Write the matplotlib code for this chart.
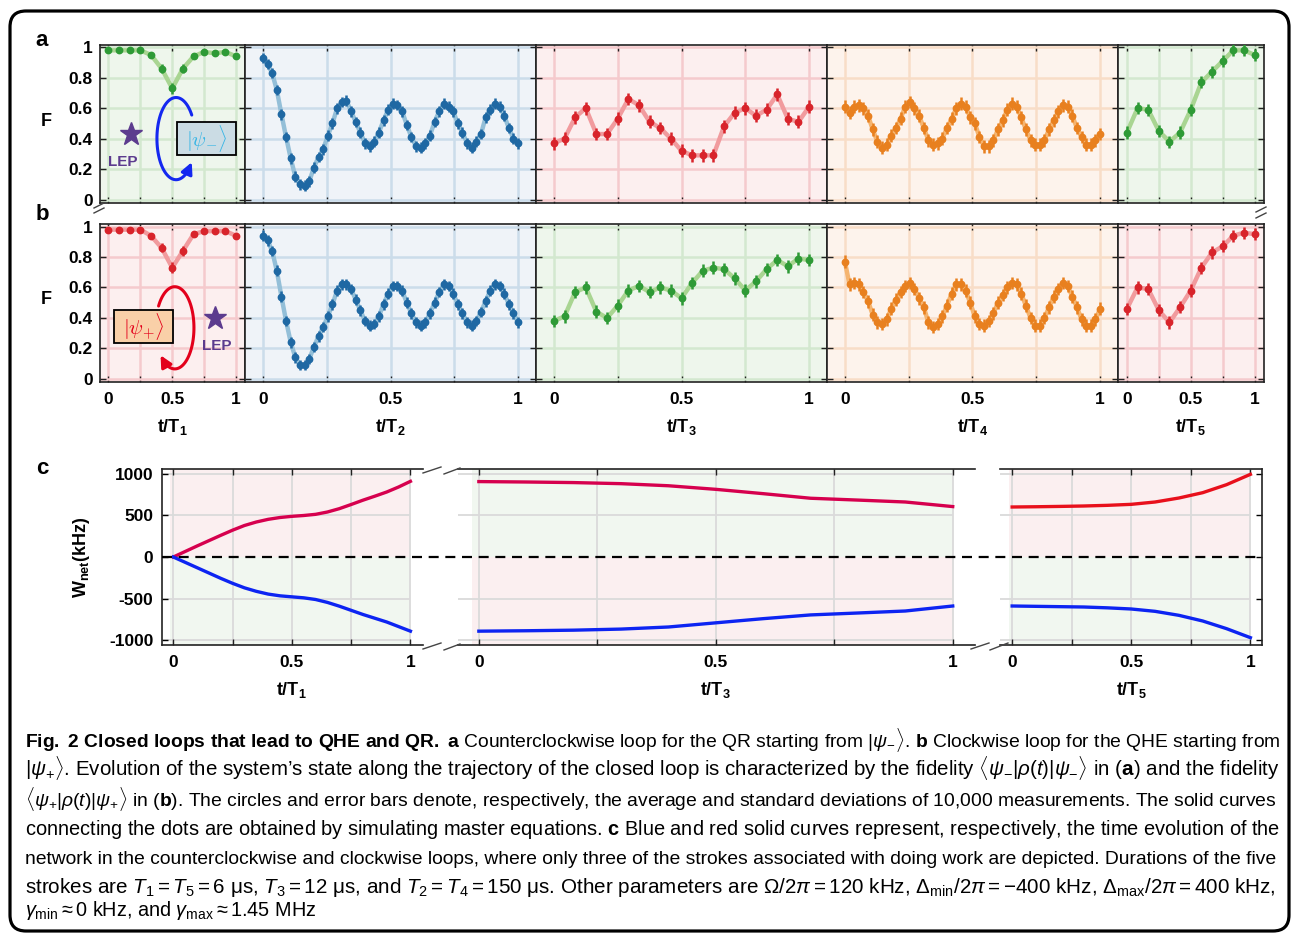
import numpy as np
import matplotlib
matplotlib.use('Agg')
import matplotlib.pyplot as plt
from matplotlib import font_manager
from matplotlib.patches import FancyBboxPatch, Rectangle
from matplotlib.lines import Line2D
from matplotlib.transforms import IdentityTransform

# ---------------- data ----------------
t13 = np.arange(13) / 12.
t25 = np.arange(25) / 24.
t56 = np.arange(56) / 55.
tc21 = np.arange(21) / 20.
tc = np.arange(11) / 10.

# a: counterclockwise loop, fidelity <psi_-|rho|psi_->
F_a1 = [0.98, 0.98, 0.98, 0.98, 0.95, 0.86, 0.73, 0.86, 0.94, 0.97, 0.96, 0.97, 0.94]
F_a2 = [0.93, 0.89, 0.83, 0.72, 0.56, 0.41, 0.27, 0.15, 0.10, 0.09, 0.12, 0.21, 0.28, 0.33,
        0.42, 0.50, 0.60, 0.64, 0.65, 0.58, 0.51, 0.44, 0.37, 0.35, 0.38, 0.44, 0.52, 0.59,
        0.63, 0.62, 0.58, 0.49, 0.41, 0.35, 0.34, 0.37, 0.42, 0.51, 0.58, 0.63, 0.61, 0.58,
        0.50, 0.44, 0.37, 0.34, 0.38, 0.43, 0.54, 0.59, 0.63, 0.61, 0.55, 0.47, 0.40, 0.37]
F_a3 = [0.37, 0.40, 0.54, 0.60, 0.43, 0.43, 0.53, 0.66, 0.62, 0.51, 0.47, 0.40, 0.32,
        0.29, 0.29, 0.29, 0.48, 0.57, 0.60, 0.55, 0.59, 0.69, 0.53, 0.51, 0.61]
F_a4 = [0.61, 0.57, 0.61, 0.62, 0.60, 0.55, 0.46, 0.38, 0.34, 0.36, 0.42, 0.47, 0.53, 0.61,
        0.64, 0.60, 0.55, 0.47, 0.39, 0.36, 0.37, 0.40, 0.47, 0.53, 0.60, 0.63, 0.61, 0.54,
        0.50, 0.41, 0.35, 0.35, 0.39, 0.46, 0.52, 0.59, 0.63, 0.61, 0.54, 0.46, 0.39, 0.36,
        0.36, 0.39, 0.46, 0.52, 0.58, 0.62, 0.61, 0.55, 0.47, 0.41, 0.36, 0.36, 0.39, 0.43]
F_a5 = [0.44, 0.60, 0.59, 0.45, 0.38, 0.44, 0.59, 0.77, 0.84, 0.91, 0.98, 0.98, 0.95]

# b: clockwise loop, fidelity <psi_+|rho|psi_+>
F_b1 = [0.98, 0.98, 0.98, 0.98, 0.94, 0.86, 0.73, 0.84, 0.95, 0.97, 0.97, 0.97, 0.94]
F_b2 = [0.94, 0.91, 0.84, 0.71, 0.54, 0.38, 0.24, 0.14, 0.09, 0.09, 0.13, 0.21, 0.28, 0.34,
        0.41, 0.49, 0.58, 0.62, 0.62, 0.59, 0.52, 0.45, 0.38, 0.35, 0.36, 0.41, 0.49, 0.56,
        0.61, 0.61, 0.58, 0.50, 0.43, 0.37, 0.35, 0.37, 0.43, 0.50, 0.57, 0.62, 0.61, 0.56,
        0.49, 0.43, 0.37, 0.35, 0.38, 0.44, 0.51, 0.58, 0.62, 0.61, 0.56, 0.49, 0.43, 0.37]
F_b3 = [0.38, 0.41, 0.57, 0.60, 0.44, 0.40, 0.48, 0.58, 0.61, 0.57, 0.60, 0.58, 0.53,
        0.63, 0.71, 0.73, 0.72, 0.66, 0.58, 0.64, 0.72, 0.78, 0.74, 0.79, 0.78]
F_b4 = [0.77, 0.62, 0.63, 0.62, 0.57, 0.51, 0.42, 0.37, 0.36, 0.39, 0.46, 0.52, 0.57, 0.61,
        0.63, 0.59, 0.53, 0.47, 0.37, 0.34, 0.36, 0.41, 0.48, 0.56, 0.62, 0.62, 0.58, 0.50,
        0.41, 0.36, 0.35, 0.38, 0.43, 0.50, 0.55, 0.60, 0.63, 0.62, 0.56, 0.48, 0.40, 0.35,
        0.35, 0.40, 0.47, 0.54, 0.59, 0.63, 0.61, 0.54, 0.47, 0.39, 0.35, 0.35, 0.39, 0.46]
F_b5 = [0.46, 0.60, 0.59, 0.45, 0.37, 0.47, 0.58, 0.73, 0.83, 0.87, 0.94, 0.96, 0.95]

err_1 = [0.01, 0.01, 0.01, 0.01, 0.02, 0.03, 0.035, 0.03, 0.02, 0.015, 0.01, 0.01, 0.015]
err_2 = 0.035
err_3 = 0.042
err_4 = 0.042
err_5 = 0.04

# c: net work (kHz) for three strokes
W1_cw = [0, 66, 132, 196, 260, 322, 378, 420, 452, 474, 488, 498, 512, 540, 580, 630,
         682, 730, 780, 840, 908]
W1_ccw = [0, -64, -128, -192, -256, -316, -370, -412, -445, -466, -478, -490, -510, -545,
          -590, -640, -690, -735, -780, -835, -890]
W3_cw = [905, 900, 893, 880, 855, 812, 760, 705, 683, 660, 605]
W3_ccw = [-890, -885, -878, -865, -840, -790, -740, -695, -672, -648, -588]
W5_cw = [600, 603, 607, 612, 620, 632, 660, 708, 772, 868, 992]
W5_ccw = [-588, -592, -596, -600, -610, -624, -652, -700, -768, -860, -968]

# ---------------- style ----------------
W, H = 1292, 934
names = {f.name for f in font_manager.fontManager.ttflist}
SANS = 'Liberation Sans' if 'Liberation Sans' in names else 'DejaVu Sans'
CAP = 'Liberation Sans Narrow' if 'Liberation Sans Narrow' in names else SANS

plt.rcParams['font.family'] = SANS
plt.rcParams['axes.unicode_minus'] = False
plt.rcParams['mathtext.fontset'] = 'custom'
plt.rcParams['mathtext.rm'] = CAP
plt.rcParams['mathtext.it'] = CAP + ':italic'
plt.rcParams['mathtext.bf'] = CAP + ':bold'

STY = {
    'green': dict(dot='#2e9a36', line='#a9d592', bg='#eef6ec', grid='#d3e8cf'),
    'blue': dict(dot='#1f68a3', line='#94bfd8', bg='#eff3f8', grid='#cbdcea'),
    'red': dict(dot='#d8242b', line='#f19b9e', bg='#fcefef', grid='#f5cacd'),
    'orange': dict(dot='#e8801f', line='#f5b46f', bg='#fdf3ec', grid='#f8ddc7'),
}
TICK_FS = 12.5


def frac(x0, y0, w, h):
    return [x0 / W, 1 - (y0 + h) / H, w / W, h / H]


def pxline(fig, p0, p1, **kw):
    fig.add_artist(Line2D([p0[0], p1[0]], [H - p0[1], H - p1[1]],
                          transform=IdentityTransform(), **kw))


fig = plt.figure(figsize=(12.92, 9.34), dpi=100)

# ---------------- panels a and b ----------------
unit = 145.5
lefts = [99.5 + k * unit for k in (0, 1, 3, 5, 7)]
widths = [unit * k for k in (1, 2, 2, 2, 1)]
rows = [
    (44.7, [(t13, F_a1, err_1, 'green'), (t56, F_a2, err_2, 'blue'), (t25, F_a3, err_3, 'red'),
            (t56, F_a4, err_4, 'orange'), (t13, F_a5, err_5, 'green')]),
    (224.0, [(t13, F_b1, err_1, 'red'), (t56, F_b2, err_2, 'blue'), (t25, F_b3, err_3, 'green'),
             (t56, F_b4, err_4, 'orange'), (t13, F_b5, err_5, 'red')]),
]
first_axes = []
for r, (top, panels) in enumerate(rows):
    for i, (t, F, e, c) in enumerate(panels):
        s = STY[c]
        ax = fig.add_axes(frac(lefts[i], top, widths[i], 158))
        ax.set_facecolor(s['bg'])
        ax.set_xlim(-0.07, 1.07)
        ax.set_ylim(-0.021, 1.017)
        ax.set_xticks([0, 0.25, 0.5, 0.75, 1])
        ax.set_yticks([0, 0.2, 0.4, 0.6, 0.8, 1])
        ax.grid(True, color=s['grid'], lw=1.8)
        ax.set_axisbelow(True)
        ax.tick_params(direction='in', top=True, right=True, length=4, width=1,
                       color='#222222', pad=5)
        ax.tick_params(axis='x', pad=7)
        if r == 1:
            ax.set_xticklabels(['0', '', '0.5', '', '1'], fontsize=TICK_FS, fontweight='bold')
        else:
            ax.tick_params(labelbottom=False)
        if i == 0:
            ax.set_yticklabels(['0', '0.2', '0.4', '0.6', '0.8', '1'],
                               fontsize=TICK_FS, fontweight='bold')
            first_axes.append(ax)
        else:
            ax.tick_params(labelleft=False)
        for sp in ax.spines.values():
            sp.set_color('#222222')
            sp.set_linewidth(1.2)
        ax.plot(t, F, color=s['line'], lw=3.2, solid_capstyle='round',
                solid_joinstyle='round', zorder=2)
        ax.errorbar(t, F, yerr=e, fmt='o', ms=4.6, color=s['dot'], ecolor=s['dot'],
                    elinewidth=1.8, capsize=0, zorder=3)


def loop(ax, cx, cy, a, b, th0, th1, color):
    th = np.radians(np.linspace(th0, th1, 90))
    x = cx + a * np.cos(th)
    y = cy + b * np.sin(th)
    ax.plot(x[:-4], y[:-4], color=color, lw=2.2, zorder=4, solid_capstyle='round')
    ax.annotate('', xy=(x[-1], y[-1]), xytext=(x[-6], y[-6]),
                arrowprops=dict(arrowstyle='-|>', color=color, lw=2.2,
                                mutation_scale=17, shrinkA=0, shrinkB=0), zorder=5)


PURPLE = '#5c3b8e'
axa, axb = first_axes
# inset of a1
loop(axa, 0.53, 0.40, 0.15, 0.27, 35, 325, '#1428f0')
axa.add_patch(Rectangle((0.535, 0.29), 0.465, 0.22, facecolor='#cbdce4',
                        edgecolor='black', lw=1.3, zorder=4))
axa.text(0.77, 0.40, r'$|\psi_{-}\rangle$', color='#37b5e5', fontsize=15,
         math_fontfamily='cm', ha='center', va='center', zorder=6)
axa.plot(0.175, 0.43, marker='*', ms=17, color=PURPLE, zorder=5)
axa.text(0.11, 0.245, 'LEP', color=PURPLE, fontsize=11, fontweight='bold',
         ha='center', va='center', zorder=5)
# inset of b1
loop(axb, 0.52, 0.335, 0.15, 0.27, 148, -138, '#e3001b')
axb.add_patch(Rectangle((0.045, 0.233), 0.462, 0.22, facecolor='#f9d0a8',
                        edgecolor='black', lw=1.3, zorder=4))
axb.text(0.276, 0.343, r'$|\psi_{+}\rangle$', color='#e3001b', fontsize=15,
         math_fontfamily='cm', ha='center', va='center', zorder=6)
axb.plot(0.835, 0.40, marker='*', ms=17, color=PURPLE, zorder=5)
axb.text(0.85, 0.217, 'LEP', color=PURPLE, fontsize=11, fontweight='bold',
         ha='center', va='center', zorder=5)

# x labels of a/b
for i, k in enumerate([1, 2, 3, 4, 5]):
    cx = lefts[i] + widths[i] * (0.07 + 0.5) / 1.14
    fig.text(cx / W, 1 - 427 / H, 't/T$_{\\mathbf{%d}}$' % k, fontsize=13,
             fontweight='bold', ha='center', va='center')

# ---------------- panel c ----------------
RED_BG, GRN_BG = '#fbeff0', '#f1f7f0'
c_specs = [
    (161.7, 423.0, (-0.049, 1.053), RED_BG, GRN_BG, tc21, W1_cw, W1_ccw, '#d6004e', 1),
    (458.0, 975.0, (-0.044, 1.047), GRN_BG, RED_BG, tc, W3_cw, W3_ccw, '#d6004e', 3),
    (1000.0, 1261.6, (-0.051, 1.047), RED_BG, GRN_BG, tc, W5_cw, W5_ccw, '#e8101c', 5),
]
for j, (x0, x1, xl, top_c, bot_c, tt, wcw, wccw, rc, k) in enumerate(c_specs):
    ax = fig.add_axes(frac(x0, 469, x1 - x0, 176))
    ax.set_xlim(xl)
    ax.set_ylim(-1056, 1056)
    ax.fill_between([-0.015, 1], 0, 1056, color=top_c, lw=0, zorder=0)
    ax.fill_between([-0.015, 1], -1056, 0, color=bot_c, lw=0, zorder=0)
    ax.vlines([0, 0.25, 0.5, 0.75, 1], -1056, 1056, color='#dadada', lw=1.3, zorder=1)
    ax.hlines([-1000, -500, 500, 1000], xl[0], 1, color='#dadada', lw=1.3, zorder=1)
    ax.plot(tt, wcw, color=rc, lw=2.4, zorder=3)
    ax.plot(tt, wccw, color='#0d24f2', lw=2.4, zorder=3)
    ax.set_xticks([0, 0.25, 0.5, 0.75, 1])
    ax.set_xticklabels(['0', '', '0.5', '', '1'], fontsize=TICK_FS, fontweight='bold')
    ax.tick_params(axis='x', direction='in', top=True, length=4, width=1, pad=7,
                   color='#222222')
    ax.set_yticks([-1000, -500, 0, 500, 1000])
    for sp in ax.spines.values():
        sp.set_color('#222222')
        sp.set_linewidth(1.2)
    if j == 0:
        ax.set_yticklabels(['-1000', '-500', '0', '500', '1000'],
                           fontsize=TICK_FS, fontweight='bold')
        ax.tick_params(axis='y', direction='in', length=4, width=1, pad=6, right=False)
        ax.spines['right'].set_visible(False)
    elif j == 1:
        ax.tick_params(axis='y', left=False, right=False, labelleft=False)
        ax.spines['left'].set_visible(False)
        ax.spines['right'].set_visible(False)
    else:
        ax.tick_params(axis='y', direction='in', length=4, width=1, left=False,
                       right=True, labelleft=False)
        ax.spines['left'].set_visible(False)
    cx = (x0 + (x1 - x0) * (0.5 - xl[0]) / (xl[1] - xl[0])) / W
    fig.text(cx, 1 - 690 / H, 't/T$_{\\mathbf{%d}}$' % k, fontsize=13,
             fontweight='bold', ha='center', va='center')

# dashed zero line running through all three segments
y0 = 1 - (469 + 88) / H
fig.add_artist(Line2D([161.7 / W, 1261.6 / W], [y0, y0], transform=fig.transFigure,
                      color='black', lw=1.6, dashes=(4.5, 3), zorder=10))

# axis break marks
mk = dict(color='#444444', lw=1.0)
for p0, p1 in [((423, 473), (441, 467)), ((444, 474), (460, 468)),
               ((423, 649), (441, 643)), ((444, 650), (460, 644)),
               ((971, 649), (989, 643)), ((990, 650), (1008, 643)),
               ((94, 208), (104, 203)), ((94, 213), (104, 208)),
               ((1256, 212), (1266, 207)), ((1256, 218), (1266, 213))]:
    pxline(fig, p0, p1, **mk)

# panel letters and y labels
for s, y in [('a', 40), ('b', 214), ('c', 469)]:
    fig.text(42 / W, 1 - y / H, s, fontsize=16, fontweight='bold', ha='center', va='center')
for y in (121, 300):
    fig.text(46 / W, 1 - y / H, 'F', fontsize=13, fontweight='bold', ha='center', va='center')
fig.text(82 / W, 1 - 557 / H, 'W$_{\\mathbf{net}}$(kHz)', rotation=90, fontsize=13,
         fontweight='bold', ha='center', va='center')

# ---------------- caption ----------------
cap_lines = [
    r"$\mathbf{Fig.\ 2\ Closed\ loops\ that\ lead\ to\ QHE\ and\ QR.\ a}$ Counterclockwise loop for the QR starting from $|\psi_{-}\rangle$. $\mathbf{b}$ Clockwise loop for the QHE starting from",
    r"$|\psi_{+}\rangle$. Evolution of the system’s state along the trajectory of the closed loop is characterized by the fidelity $\langle\psi_{-}|\rho(t)|\psi_{-}\rangle$ in ($\mathbf{a}$) and the fidelity",
    r"$\langle\psi_{+}|\rho(t)|\psi_{+}\rangle$ in ($\mathbf{b}$). The circles and error bars denote, respectively, the average and standard deviations of 10,000 measurements. The solid curves",
    r"connecting the dots are obtained by simulating master equations. $\mathbf{c}$ Blue and red solid curves represent, respectively, the time evolution of the",
    "network in the counterclockwise and clockwise loops, where only three of the strokes associated with doing work are depicted. Durations of the five",
    r"strokes are $T_1 = T_5 = 6$ μs, $T_3 = 12$ μs, and $T_2 = T_4 = 150$ μs. Other parameters are $\Omega/2\pi = 120$ kHz, $\Delta_{\rm min}/2\pi = -400$ kHz, $\Delta_{\rm max}/2\pi = 400$ kHz,",
    r"$\gamma_{\rm min} \approx 0$ kHz, and $\gamma_{\rm max} \approx 1.45$ MHz",
]
cap_y = [742, 771, 801, 830, 859, 888, 911]
cap_txt = []
for s, y in zip(cap_lines, cap_y):
    cap_txt.append(fig.text(25 / W, 1 - (y + 5) / H, s, fontsize=13, family=CAP,
                            ha='left', va='baseline', math_fontfamily='custom'))
renderer = fig.canvas.get_renderer()
sizes = []
for tx in cap_txt[:6]:
    w = tx.get_window_extent(renderer).width
    fs = 13 * (1275 - 25) / w
    tx.set_fontsize(fs)
    sizes.append(fs)
cap_txt[6].set_fontsize(np.mean(sizes))

# rounded frame
fig.add_artist(FancyBboxPatch((10, 3), 1279, 920, boxstyle='round,pad=0,rounding_size=16',
                              transform=IdentityTransform(), fill=False, lw=2.3,
                              ec='black', zorder=20))

fig.savefig('out.png', dpi=100)
